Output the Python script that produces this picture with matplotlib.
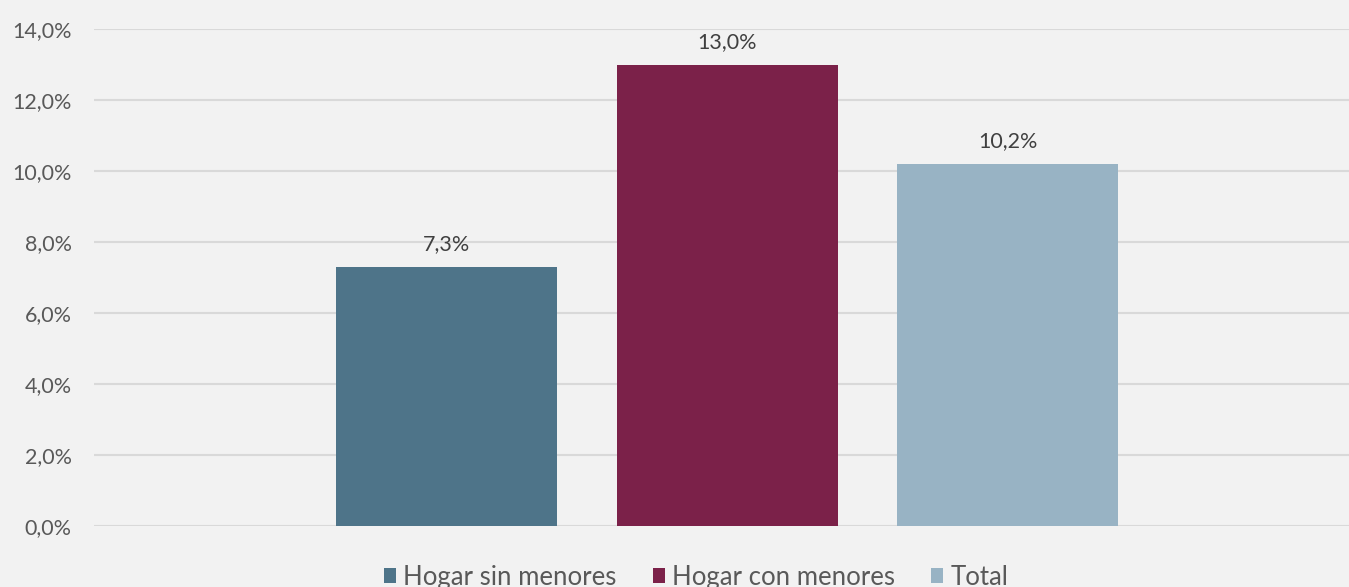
import matplotlib.pyplot as plt
from matplotlib.ticker import FuncFormatter

plt.rcParams['font.family'] = ['Lato', 'DejaVu Sans']

series = ["Hogar sin menores", "Hogar con menores", "Total"]
values = [7.3, 13.0, 10.2]
colors = ["#4e7489", "#7b2149", "#98b3c4"]
txt = "#595959"
bg = "#f2f2f2"

fig = plt.figure(figsize=(13.49, 5.87), dpi=100, facecolor=bg)
ax = fig.add_axes([94 / 1349, 61 / 587, 1 - 94 / 1349, 497 / 587], facecolor=bg)

for i, (name, v, c) in enumerate(zip(series, values, colors)):
    ax.bar(i, v, width=0.788, color=c, label=name, zorder=3)
    ax.annotate(f"{v:.1f}%".replace(".", ","), (i, v), xytext=(0, 9),
                textcoords="offset points", ha="center", va="bottom",
                fontsize=15.5, color="#404040")

ax.set_xlim(-1.257, 3.217)
ax.set_ylim(0, 14)
ax.set_yticks([0, 2, 4, 6, 8, 10, 12, 14])
ax.yaxis.set_major_formatter(FuncFormatter(lambda y, p: f"{y:.1f}%".replace(".", ",")))
ax.set_xticks([])
ax.grid(axis="y", color="#d9d9d9", lw=1.5, zorder=0)
for s in ax.spines.values():
    s.set_visible(False)
ax.tick_params(axis="y", length=0, labelsize=15.5, labelcolor=txt, pad=16)

fig.legend(loc="center", bbox_to_anchor=(0.516, 0.017), ncol=3, frameon=False,
           fontsize=18.5, labelcolor=txt, handlelength=0.48, handleheight=0.48,
           handletextpad=0.27, columnspacing=1.4, borderaxespad=0, borderpad=0)

fig.savefig("out.png", dpi=100, facecolor=bg)
